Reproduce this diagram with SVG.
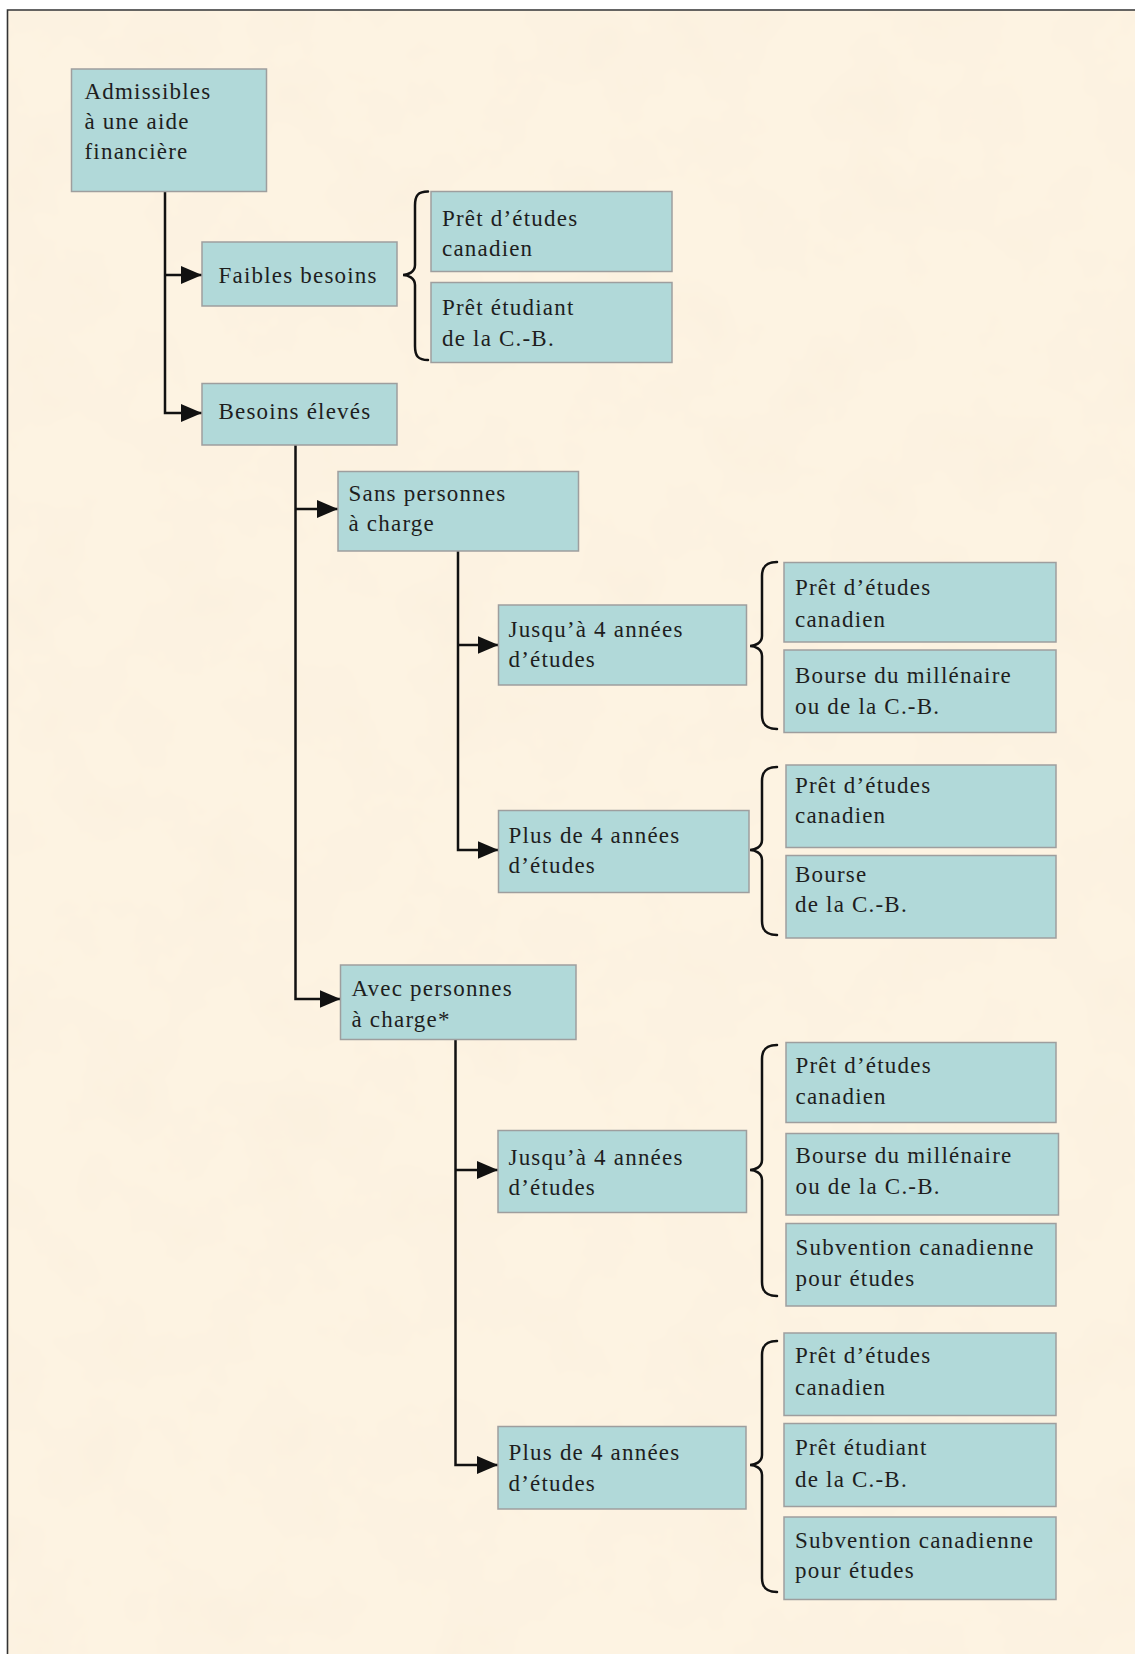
<svg xmlns="http://www.w3.org/2000/svg" width="1135" height="1654" viewBox="0 0 1135 1654">
<style>
.box{fill:#b1d9d9;stroke:#9e9e9e;stroke-width:1.5}
.t{font-family:"Liberation Serif","Times New Roman",serif;font-size:23px;letter-spacing:1.2px;fill:#1e1e1e}
.con{fill:none;stroke:#111;stroke-width:2.5}
.arr{fill:none;stroke:#111;stroke-width:2.5;marker-end:url(#ah)}
.brace{fill:none;stroke:#111;stroke-width:2.5;stroke-linecap:round}
</style>
<defs>
<marker id="ah" markerUnits="userSpaceOnUse" markerWidth="22" markerHeight="20" refX="21" refY="9" orient="auto" viewBox="0 0 22 20">
<path d="M0,0 L21,9 L0,18 z" fill="#111"/>
</marker>
<filter id="tex" x="0" y="0" width="100%" height="100%">
<feTurbulence type="fractalNoise" baseFrequency="0.012" numOctaves="4" seed="7"/>
<feColorMatrix type="matrix" values="0 0 0 0 0.93  0 0 0 0 0.84  0 0 0 0 0.70  0.7 0 0 0 -0.28"/>
</filter>
</defs>
<rect x="0" y="0" width="1135" height="1654" fill="#ffffff"/>
<rect x="8" y="10.5" width="1127" height="1643.5" fill="#fdf3e2"/>
<rect x="8" y="10.5" width="1127" height="1643.5" filter="url(#tex)"/>
<path d="M7.5,1654 V10 H1135" fill="none" stroke="#333" stroke-width="1.6"/>

<g id="connectors">
<path class="arr" d="M165,191.5 V413 H202"/>
<path class="arr" d="M165,275 H202"/>
<path class="arr" d="M295.5,445 V999 H340.5"/>
<path class="arr" d="M295.5,509 H338"/>
<path class="arr" d="M458,551 V850 H498.5"/>
<path class="arr" d="M458,645 H498.5"/>
<path class="arr" d="M455.5,1039 V1465 H498"/>
<path class="arr" d="M455.5,1170 H498"/>
<path class="brace" d="M428,191.5 C418,191.5 415,195.5 415,205.5 L415,265 C415,272 408,275 403,275 C408,275 415,278 415,285 L415,346 C415,356 418,360 428,360"/>
<path class="brace" d="M777,562 C767,562 762,566 762,576 L762,636 C762,643 755,646 750,646 C755,646 762,649 762,656 L762,715 C762,725 767,729 777,729"/>
<path class="brace" d="M777,767 C767,767 762,771 762,781 L762,840 C762,847 755,850 750,850 C755,850 762,853 762,860 L762,921 C762,931 767,935 777,935"/>
<path class="brace" d="M777,1045 C767,1045 762,1049 762,1059 L762,1160 C762,1167 755,1170 750,1170 C755,1170 762,1173 762,1180 L762,1282 C762,1292 767,1296 777,1296"/>
<path class="brace" d="M777,1341 C767,1341 762,1345 762,1355 L762,1455 C762,1462 755,1465 750,1465 C755,1465 762,1468 762,1475 L762,1578 C762,1588 767,1592 777,1592"/>
</g>

<g id="n1"><rect class="box" x="71.5" y="69" width="195" height="122.5"/>
<text class="t" x="84.5" y="98.5">Admissibles</text><text class="t" x="84.5" y="128.5">à une aide</text><text class="t" x="84.5" y="159">financière</text></g>
<g id="n2"><rect class="box" x="202" y="242" width="195" height="64"/>
<text class="t" x="218.5" y="283">Faibles besoins</text></g>
<g id="n3"><rect class="box" x="202" y="383.5" width="195" height="61.5"/>
<text class="t" x="218.5" y="418.5">Besoins élevés</text></g>
<g id="n4"><rect class="box" x="431" y="191.5" width="241" height="80"/>
<text class="t" x="442" y="226">Prêt d’études</text><text class="t" x="442" y="256">canadien</text></g>
<g id="n5"><rect class="box" x="431" y="282.5" width="241" height="80"/>
<text class="t" x="442" y="315">Prêt étudiant</text><text class="t" x="442" y="345.7">de la C.-B.</text></g>
<g id="n6"><rect class="box" x="338" y="471.5" width="240.5" height="79.5"/>
<text class="t" x="348.5" y="501">Sans personnes</text><text class="t" x="348.5" y="530.7">à charge</text></g>
<g id="n7"><rect class="box" x="498.5" y="605" width="248" height="80"/>
<text class="t" x="508.5" y="636.7">Jusqu’à 4 années</text><text class="t" x="508.5" y="666.7">d’études</text></g>
<g id="n8"><rect class="box" x="498.5" y="810.5" width="250.5" height="82"/>
<text class="t" x="508.5" y="843.3">Plus de 4 années</text><text class="t" x="508.5" y="872.7">d’études</text></g>
<g id="n9"><rect class="box" x="784" y="562.5" width="272" height="79.5"/>
<text class="t" x="795" y="595">Prêt d’études</text><text class="t" x="795" y="627">canadien</text></g>
<g id="n10"><rect class="box" x="784" y="650" width="272" height="82.5"/>
<text class="t" x="795" y="683.3">Bourse du millénaire</text><text class="t" x="795" y="714">ou de la C.-B.</text></g>
<g id="n11"><rect class="box" x="786" y="765" width="270" height="82.5"/>
<text class="t" x="795" y="793.3">Prêt d’études</text><text class="t" x="795" y="823.3">canadien</text></g>
<g id="n12"><rect class="box" x="786" y="855.5" width="270" height="82.5"/>
<text class="t" x="795" y="881.7">Bourse</text><text class="t" x="795" y="911.7">de la C.-B.</text></g>
<g id="n13"><rect class="box" x="340.5" y="965" width="235.5" height="74.5"/>
<text class="t" x="351.5" y="996">Avec personnes</text><text class="t" x="351.5" y="1027">à charge*</text></g>
<g id="n14"><rect class="box" x="498" y="1130.5" width="248.5" height="82"/>
<text class="t" x="508.5" y="1164.5">Jusqu’à 4 années</text><text class="t" x="508.5" y="1195">d’études</text></g>
<g id="n15"><rect class="box" x="498" y="1426.5" width="248" height="82.5"/>
<text class="t" x="508.5" y="1460">Plus de 4 années</text><text class="t" x="508.5" y="1490.5">d’études</text></g>
<g id="n16"><rect class="box" x="786" y="1042.5" width="270" height="80"/>
<text class="t" x="795.5" y="1073.3">Prêt d’études</text><text class="t" x="795.5" y="1104">canadien</text></g>
<g id="n17"><rect class="box" x="786" y="1133.5" width="272.5" height="81.5"/>
<text class="t" x="795.5" y="1162.7">Bourse du millénaire</text><text class="t" x="795.5" y="1194">ou de la C.-B.</text></g>
<g id="n18"><rect class="box" x="786" y="1223.5" width="270" height="82.5"/>
<text class="t" x="795.5" y="1255">Subvention canadienne</text><text class="t" x="795.5" y="1285.5">pour études</text></g>
<g id="n19"><rect class="box" x="784" y="1333" width="272" height="82.5"/>
<text class="t" x="795" y="1363.3">Prêt d’études</text><text class="t" x="795" y="1395">canadien</text></g>
<g id="n20"><rect class="box" x="784" y="1423.5" width="272" height="83"/>
<text class="t" x="795" y="1455.3">Prêt étudiant</text><text class="t" x="795" y="1486.7">de la C.-B.</text></g>
<g id="n21"><rect class="box" x="784" y="1517" width="272" height="82.5"/>
<text class="t" x="795" y="1548.3">Subvention canadienne</text><text class="t" x="795" y="1578.3">pour études</text></g>
</svg>
